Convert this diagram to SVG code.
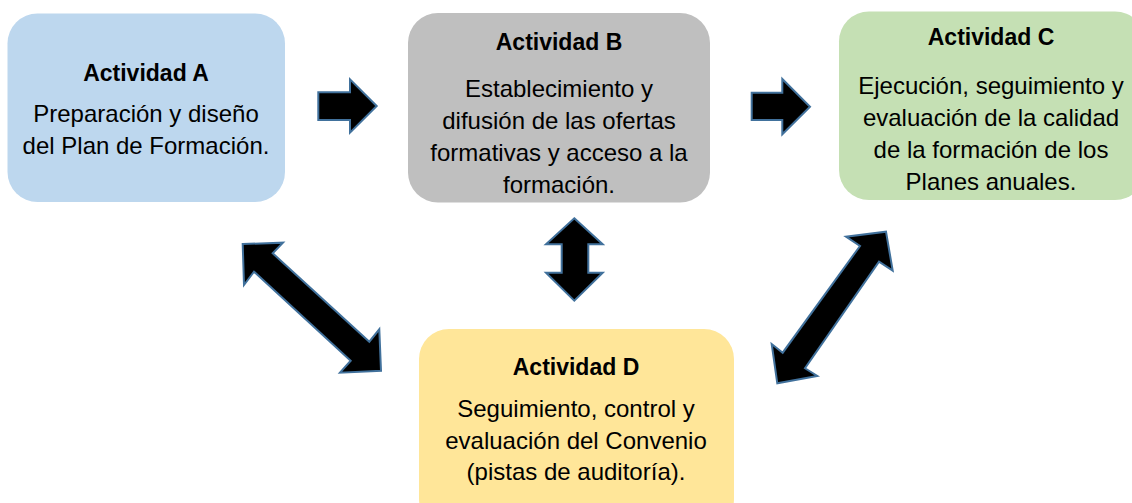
<svg xmlns="http://www.w3.org/2000/svg" width="1132" height="503" viewBox="0 0 1132 503">
<style>
.t{font-family:"Liberation Sans",Arial,sans-serif;font-size:24px;fill:#000;text-anchor:middle}
.b{font-family:"Liberation Sans",Arial,sans-serif;font-size:23px;font-weight:bold;fill:#000;text-anchor:middle}
.arr{fill:#000;stroke:#41719C;stroke-width:2;stroke-linejoin:miter}
</style>
<rect width="1132" height="503" fill="#fff"/>
<g id="nodeA">
<rect x="7.5" y="13.5" width="277.5" height="188.5" rx="30" fill="#BDD7EE"/>
<text class="b" x="146" y="80.5">Actividad A</text>
<text class="t" x="146" y="121.5">Preparación y diseño</text>
<text class="t" x="146" y="153.5">del Plan de Formación.</text>
</g>
<g id="nodeB">
<rect x="408" y="13" width="302" height="189.5" rx="30" fill="#BFBFBF"/>
<text class="b" x="559" y="50">Actividad B</text>
<text class="t" x="559" y="96.5">Establecimiento y</text>
<text class="t" x="559" y="128.5">difusión de las ofertas</text>
<text class="t" x="559" y="160.5">formativas y acceso a la</text>
<text class="t" x="559" y="192.5">formación.</text>
</g>
<g id="nodeC">
<rect x="839" y="11.5" width="306" height="188.5" rx="30" fill="#C5E0B4"/>
<text class="b" x="991" y="45">Actividad C</text>
<text class="t" x="991" y="93.5">Ejecución, seguimiento y</text>
<text class="t" x="991" y="125.5">evaluación de la calidad</text>
<text class="t" x="991" y="157.5">de la formación de los</text>
<text class="t" x="991" y="189.5">Planes anuales.</text>
</g>
<g id="nodeD">
<rect x="419" y="329" width="315" height="200" rx="30" fill="#FFE699"/>
<text class="b" x="576" y="375">Actividad D</text>
<text class="t" x="576" y="416.5">Seguimiento, control y</text>
<text class="t" x="576" y="448.5">evaluación del Convenio</text>
<text class="t" x="576" y="479.5">(pistas de auditoría).</text>
</g>
<g id="connectors">
<polygon class="arr" points="318.3,92.3 350,92.3 350,79.3 376.7,106 350,132.7 350,120 318.3,120"/>
<polygon class="arr" points="751.7,92.7 782.3,92.7 782.3,79 810,106.7 782.3,134.3 782.3,120 751.7,120"/>
<polygon class="arr" points="574.3,218.3 602.7,244.3 588.3,244.3 588.3,272.7 602.7,272.7 574.3,300.7 546,272.7 561.7,272.7 561.7,244.3 546,244.3"/>
<polygon class="arr" points="242.7,244 283,242.7 272.7,253.3 369.3,341.7 379.3,329.3 381,370.7 340,372.7 350.7,360.7 254,271.7 244,285"/>
<polygon class="arr" points="886,231.7 892.7,270.7 879,261.7 805,368.3 817.3,376 777.3,383.3 771.7,344 782.7,352.7 860,246 846,236.7"/>
</g>
</svg>
